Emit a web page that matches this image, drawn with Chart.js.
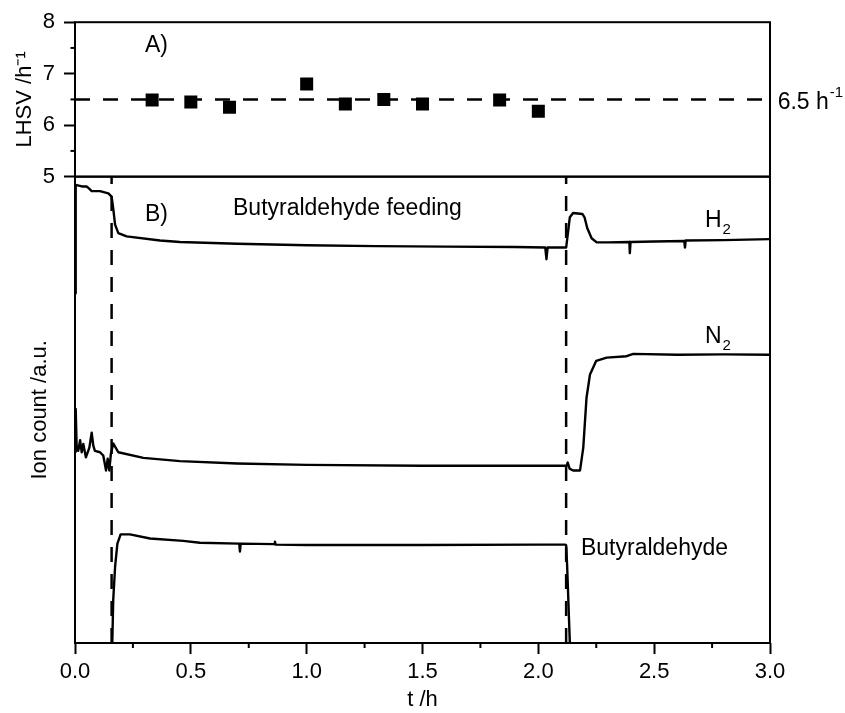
<!DOCTYPE html>
<html><head><meta charset="utf-8">
<script src="https://cdn.jsdelivr.net/npm/chart.js@4.4.0/dist/chart.umd.min.js"></script>
<style>html,body{margin:0;padding:0;background:#fff;}canvas{display:block;}</style>
</head><body>
<canvas id="c" width="845" height="713"></canvas>
<script>
// ---------- data ----------
const xTickLabels = ['0.0','0.5','1.0','1.5','2.0','2.5','3.0'];
const lhsvTickLabels = ['5','6','7','8'];
const lhsvTime  = [0.333, 0.5, 0.667, 1.0, 1.167, 1.333, 1.5, 1.833, 2.0];
const lhsvValue = [6.49, 6.45, 6.35, 6.80, 6.41, 6.50, 6.41, 6.49, 6.27];
const lhsvNominal = 6.5;
const switchTimes = [0.158, 2.12];

const h2Time   = [0, 0.003, 0.007, 0.03, 0.05, 0.06, 0.072, 0.108, 0.144, 0.158, 0.165, 0.173, 0.187, 0.223, 0.367, 0.453, 0.7, 1.0, 1.3, 1.6, 1.9, 2.03, 2.035, 2.04, 2.12, 2.128, 2.136, 2.15, 2.19, 2.2, 2.211, 2.23, 2.252, 2.3, 2.393, 2.395, 2.398, 2.5, 2.63, 2.633, 2.636, 2.8, 3.0];
const h2Signal = [75, 98.0, 98.2, 97.9, 97.9, 97.5, 96.9, 96.9, 96.4, 95.7, 93.2, 89.7, 87.9, 87.2, 86.3, 86.0, 85.6, 85.3, 85.1, 85.0, 84.9, 84.8, 82.3, 84.8, 84.8, 88.0, 91.3, 92.2, 92.0, 91.2, 89.0, 86.8, 85.9, 85.9, 86.0, 83.6, 86.0, 86.1, 86.2, 84.8, 86.3, 86.4, 86.6];

const n2Time   = [0, 0.003, 0.007, 0.014, 0.022, 0.029, 0.036, 0.047, 0.062, 0.072, 0.079, 0.086, 0.108, 0.122, 0.134, 0.141, 0.148, 0.155, 0.165, 0.187, 0.295, 0.453, 0.7, 1.0, 1.5, 2.0, 2.122, 2.127, 2.135, 2.15, 2.18, 2.194, 2.208, 2.223, 2.25, 2.295, 2.381, 2.41, 2.6, 2.8, 3.0];
const n2Signal = [41.0, 50.2, 42.3, 41.2, 43.5, 40.9, 42.7, 39.8, 41.9, 45.1, 42.3, 41.2, 40.9, 40.2, 37.0, 39.5, 37.0, 40.6, 42.8, 40.9, 39.7, 39.0, 38.5, 38.2, 38.0, 38.0, 38.0, 38.7, 37.4, 37.0, 37.0, 41.9, 52.6, 57.6, 60.5, 61.2, 61.5, 62.0, 61.8, 61.9, 61.8];

const butTime   = [0.161, 0.165, 0.173, 0.183, 0.197, 0.237, 0.324, 0.467, 0.539, 0.709, 0.712, 0.715, 0.86, 0.863, 0.866, 1.0, 1.5, 2.0, 2.115, 2.12, 2.124, 2.136];
const butSignal = [0, 9.2, 16.3, 21.3, 23.3, 23.3, 22.4, 21.9, 21.5, 21.3, 19.6, 21.3, 21.2, 21.7, 21.1, 21.0, 21.0, 21.1, 21.1, 21.0, 17.0, 0];

// ---------- annotation text (anchors in data units) ----------
const notes = [
  {text:'A)', t:0.302, v:7.42, axis:'yA'},
  {text:'B)', t:0.302, v:90.4, axis:'yB'},
  {text:'Butyraldehyde feeding', t:0.682, v:91.8, axis:'yB'},
  {text:'H', sub:'2', t:2.719, v:89.3, axis:'yB'},
  {text:'N', sub:'2', t:2.719, v:64.3, axis:'yB'},
  {text:'Butyraldehyde', t:2.184, v:18.8, axis:'yB'},
  {text:'6.5 h', sup:'-1', t:3.033, v:6.323, axis:'yA'}
];

const FONT = "'Liberation Sans', Arial, Helvetica, sans-serif";
Chart.defaults.font.family = FONT;
Chart.defaults.color = '#000';

const xy = (ts, vs) => ts.map((t, i) => ({x: t, y: vs[i]}));
const isHalf = v => Math.abs(v * 2 - Math.round(v * 2)) < 1e-6;

const lineDs = (label, data, axis, extra) => Object.assign({
  label, data, yAxisID: axis, xAxisID: 'x', borderColor: '#000', borderWidth: 2.4,
  pointRadius: 0, tension: 0, fill: false, borderJoinStyle: 'round', borderCapStyle: 'butt'
}, extra || {});

const datasets = [
  {
    label: 'LHSV', data: xy(lhsvTime, lhsvValue), yAxisID: 'yA', xAxisID: 'x',
    showLine: false, pointStyle: 'rect', pointRadius: 9.2, pointHoverRadius: 9.2,
    pointBackgroundColor: '#000', pointBorderWidth: 0, borderColor: '#000'
  },
  lineDs('H2', xy(h2Time, h2Signal), 'yB'),
  lineDs('N2', xy(n2Time, n2Signal), 'yB'),
  lineDs('Butyraldehyde', xy(butTime, butSignal), 'yB'),
  lineDs('6.5 h-1', [{x: 0, y: lhsvNominal}, {x: 3, y: lhsvNominal}], 'yA', {borderDash: [15, 13], borderWidth: 2.5}),
  ...switchTimes.map((t, i) => lineDs('switch ' + i, [{x: t, y: 0}, {x: t, y: 100}], 'yB', {borderDash: [15, 12], borderWidth: 2.5}))
];

const framePlugin = {
  id: 'frame',
  afterDatasetsDraw(chart) {
    const {ctx, chartArea, scales} = chart;
    ctx.save();
    ctx.strokeStyle = '#000';
    ctx.lineWidth = 2;
    ['yA', 'yB'].forEach(id => {
      const s = scales[id];
      ctx.strokeRect(chartArea.left, s.top, chartArea.right - chartArea.left, s.bottom - s.top);
    });
    // minor ticks
    const yA = scales.yA, x = scales.x;
    [5.5, 6.5, 7.5].forEach(v => {
      const py = yA.getPixelForValue(v);
      ctx.beginPath(); ctx.moveTo(chartArea.left, py); ctx.lineTo(chartArea.left - 4.5, py); ctx.stroke();
    });
    for (let i = 1; i < 12; i += 2) {
      const px = x.getPixelForValue(i * 0.25);
      ctx.beginPath(); ctx.moveTo(px, chartArea.bottom); ctx.lineTo(px, chartArea.bottom + 5); ctx.stroke();
    }
    ctx.restore();
  }
};

const notesPlugin = {
  id: 'notes',
  afterDraw(chart) {
    const {ctx, scales} = chart;
    ctx.save();
    ctx.fillStyle = '#000';
    ctx.textBaseline = 'alphabetic';
    ctx.textAlign = 'left';
    notes.forEach(n => {
      const px = scales.x.getPixelForValue(n.t);
      const py = scales[n.axis].getPixelForValue(n.v);
      ctx.font = '23px ' + FONT;
      ctx.fillText(n.text, px, py);
      const w = ctx.measureText(n.text).width;
      if (n.sub) { ctx.font = '15px ' + FONT; ctx.fillText(n.sub, px + w + 1, py + 7); }
      if (n.sup) { ctx.font = '15px ' + FONT; ctx.fillText(n.sup, px + w + 1, py - 11.5); }
    });
    ctx.restore();
  }
};

new Chart(document.getElementById('c'), {
  type: 'line',
  data: {datasets},
  options: {
    responsive: false,
    animation: false,
    events: [],
    layout: {padding: {left: 0, right: 75, top: 20, bottom: 0}},
    plugins: {legend: {display: false}, tooltip: {enabled: false}},
    scales: {
      x: {
        type: 'linear', position: 'bottom', min: 0, max: 3,
        afterFit: s => { s.height = 70; },
        ticks: {
          stepSize: 0.25, autoSkip: false, maxRotation: 0, minRotation: 0, padding: 5,
          font: {size: 22}, color: '#000',
          callback: v => isHalf(v) ? xTickLabels[Math.round(v * 2)] : ''
        },
        grid: {
          display: true, drawOnChartArea: false, drawTicks: true, tickLength: 11, tickWidth: 2,
          tickColor: c => (c.tick && isHalf(c.tick.value)) ? '#000' : 'rgba(0,0,0,0)'
        },
        border: {display: false},
        title: {display: true, text: 't /h', font: {size: 22}, color: '#000', padding: {top: 0, bottom: 0}}
      },
      yB: {
        type: 'linear', position: 'left', stack: 'panels', stackWeight: 468, min: 0, max: 100,
        afterFit: s => { s.width = 75; },
        ticks: {display: false},
        grid: {display: false},
        border: {display: false},
        title: {display: true, text: 'Ion count /a.u.', font: {size: 22}, color: '#000', padding: {top: 27, bottom: 0}}
      },
      yA: {
        type: 'linear', position: 'left', stack: 'panels', stackWeight: 155, min: 5, max: 8,
        afterFit: s => { s.width = 75; },
        ticks: {
          stepSize: 0.5, autoSkip: false, padding: 9, font: {size: 22}, color: '#000',
          callback: v => Number.isInteger(v) ? lhsvTickLabels[v - 5] : ''
        },
        grid: {
          display: true, drawOnChartArea: false, drawTicks: true, tickLength: 11, tickWidth: 2,
          tickColor: c => (c.tick && Number.isInteger(c.tick.value)) ? '#000' : 'rgba(0,0,0,0)'
        },
        border: {display: false},
        title: {display: true, text: 'LHSV /h⁻¹', font: {size: 22}, color: '#000', padding: {top: 12, bottom: 0}}
      }
    }
  },
  plugins: [framePlugin, notesPlugin]
});
</script>
</body></html>
